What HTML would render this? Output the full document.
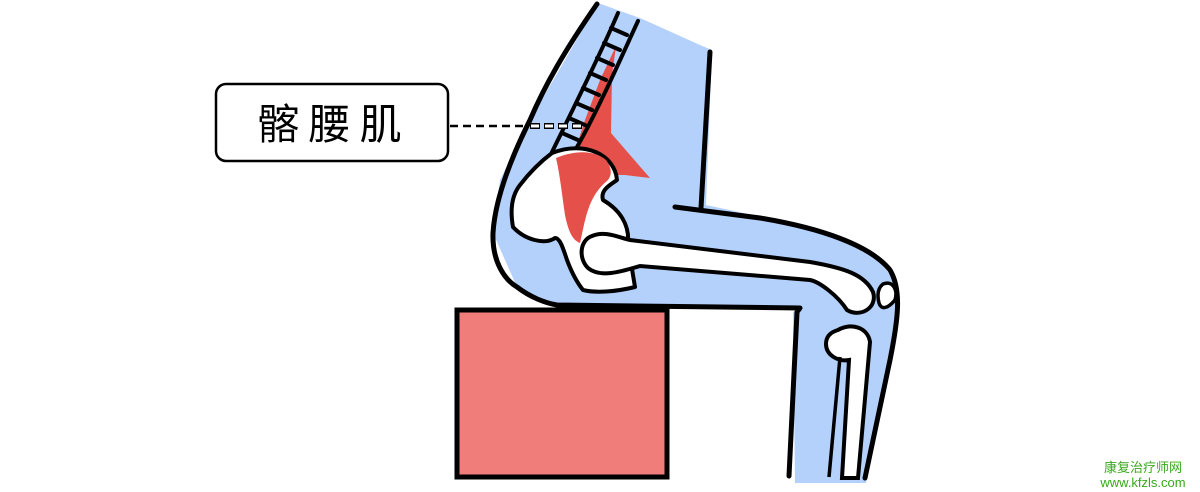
<!DOCTYPE html>
<html><head><meta charset="utf-8"><style>
html,body{margin:0;padding:0;background:#fff;width:1200px;height:492px;overflow:hidden}
svg{display:block}
</style></head><body>
<svg width="1200" height="492" viewBox="0 0 1200 492" xmlns="http://www.w3.org/2000/svg">
<path d="M598,3 L640,18 L700,45 L712,50 L706,205 L800,225 L870,250 L896,282 L900,300 L890,360 L866,483 L795,483 L793,312 L800,308 L620,306 L557,305 L517,287 L493,233 L500,180 L530,120 Z" fill="#b3d1fb"/>
<rect x="457" y="310" width="210" height="167" fill="#f17d7b" stroke="#000" stroke-width="5"/>
<path d="M616,46 L612,75 L611,133 L630,155 L650,178 L625,175 L605,175 L572,160 L585,120 L600,80 Z" fill="#e5514a"/>
<g stroke="#000" stroke-width="4" fill="none" stroke-linecap="round">
<path d="M618,13 C600,55 575,105 552,152"/>
<path d="M638,21 C620,60 598,110 577,147"/>
<path d="M611,28 L627,35 M604,43 L620,50 M597,58 L613,65 M590,73 L606,80 M583,88 L599,95 M576,103 L592,110 M569,118 L585,125 M562,133 L578,140"/>
</g>
<path d="M552,153 C585,140 615,155 617,180 C610,185 600,190 603,200 C620,210 630,225 628,245 L635,287 C615,292 595,293 583,290 C575,280 570,268 567,260 C563,248 560,238 555,238 C545,245 525,240 513,227 C510,210 512,195 520,185 C530,172 540,162 552,153 Z" fill="#fff" stroke="#000" stroke-width="4" stroke-linejoin="round"/>
<path d="M556,158 C575,150 595,150 606,160 C612,168 612,175 608,180 C598,188 592,198 588,210 C584,222 582,235 580,243 C572,240 568,230 565,215 C562,195 560,175 556,158 Z" fill="#e5514a"/>
<path d="M592,236 C605,230 620,238 630,240 L810,262 C845,268 865,275 873,292 C878,308 860,318 847,310 C838,296 820,282 810,280 L640,266 C620,272 600,278 588,268 C578,258 580,240 592,236 Z" fill="#fff" stroke="#000" stroke-width="4"/>
<path d="M883,284 C893,280 898,290 895,300 C890,306 882,312 879,303 C877,295 878,288 883,284 Z" fill="#fff" stroke="#000" stroke-width="3.5"/>
<path d="M838,330 C852,322 868,328 870,342 L858,478 L842,478 L849,360 C838,362 826,355 826,344 C826,336 831,332 838,330 Z" fill="#fff" stroke="#000" stroke-width="4"/>
<path d="M840,357 L829,477" stroke="#000" stroke-width="3.5" fill="none"/>
<g stroke="#000" stroke-width="5" fill="none" stroke-linecap="round" stroke-linejoin="round">
<path d="M597,4 C565,50 545,85 530,120 C510,160 495,200 493,233 C492,262 505,280 517,287 C530,297 545,303 557,305 L800,308 L797,312 L789,476"/>
<path d="M710,52 L701,208"/>
<path d="M675,207 L760,218 C820,228 870,245 890,270 C902,290 898,320 890,360 L865,478"/>
</g>
<rect x="216" y="84" width="232" height="77" rx="10" fill="#fff" stroke="#000" stroke-width="2.5"/>
<text x="334" y="139" font-family="'Liberation Sans','Noto Sans CJK SC',sans-serif" font-size="42" text-anchor="middle" letter-spacing="9">髂腰肌</text>
<line x1="450" y1="126" x2="528" y2="126" stroke="#000" stroke-width="2.5" stroke-dasharray="8,5"/>
<line x1="530" y1="126" x2="582" y2="126" stroke="#000" stroke-width="6" stroke-dasharray="10,4"/>
<line x1="531" y1="126" x2="581" y2="126" stroke="#fff" stroke-width="3" stroke-dasharray="8,6"/>
<text x="1143" y="472" font-family="'Liberation Sans','Noto Sans CJK SC',sans-serif" font-size="13" fill="#3aa81c" text-anchor="middle">康复治疗师网</text>
<text x="1143" y="487" font-family="'Liberation Sans',sans-serif" font-size="13" fill="#3aa81c" text-anchor="middle">www.kfzls.com</text>
</svg>
</body></html>
